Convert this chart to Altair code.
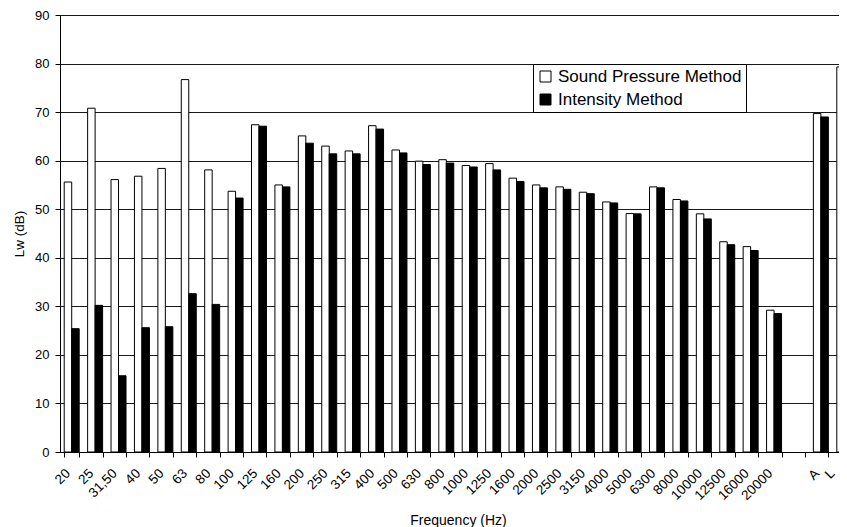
import altair as alt
import pandas as pd

freqs = ["20", "25", "31,50", "40", "50", "63", "80", "100", "125", "160", "200",
         "250", "315", "400", "500", "630", "800", "1000", "1250", "1600", "2000",
         "2500", "3150", "4000", "5000", "6300", "8000", "10000", "12500", "16000",
         "20000", "gap", "A", "L"]
pressure = [55.6, 70.8, 56.1, 56.8, 58.4, 76.7, 58.1, 53.7, 67.4, 55.0, 65.1,
            63.0, 62.0, 67.2, 62.2, 59.9, 60.2, 59.0, 59.4, 56.4, 55.0,
            54.6, 53.5, 51.5, 49.1, 54.6, 52.0, 49.05, 43.3, 42.3,
            29.2, None, 69.7, 79.3]
intensity = [25.4, 30.2, 15.7, 25.6, 25.8, 32.6, 30.4, 52.3, 67.1, 54.6, 63.6,
             61.4, 61.4, 66.5, 61.6, 59.2, 59.5, 58.7, 58.1, 55.7, 54.4,
             54.1, 53.2, 51.3, 49.05, 54.4, 51.7, 48.0, 42.7, 41.5,
             28.5, None, 69.0, 73.4]
methods = ["Sound Pressure Method", "Intensity Method"]

rows = []
for f, p, i in zip(freqs, pressure, intensity):
    if p is not None:
        rows.append({"freq": f, "method": methods[0], "lw": p})
    if i is not None:
        rows.append({"freq": f, "method": methods[1], "lw": i})
df = pd.DataFrame(rows)

FONT = "Liberation Sans"

chart = alt.Chart(df).mark_bar(stroke="black", strokeWidth=1).encode(
    x=alt.X("freq:N", sort=freqs,
            scale=alt.Scale(domain=freqs, range=[0, 796],
                            paddingInner=0.36, paddingOuter=0.18),
            axis=alt.Axis(title="Frequency (Hz)", labelAngle=-45, labelFontSize=13.5,
                          labelFont=FONT, labelColor="black", labelOverlap=False,
                          labelBound=False,
                          labelOffset={"condition": {"test": "datum.value === 'L'",
                                                     "value": -17},
                                       "value": -9},
                          labelPadding=9,
                          labelExpr="datum.value == 'gap' ? '' : datum.value",
                          tickBand="extent", tickSize=5, tickColor="black",
                          domainColor="black", titleFont=FONT, titleFontSize=14,
                          titleFontWeight="normal", titleColor="black",
                          titleBaseline="alphabetic", titleX=398, titleY=72)),
    xOffset=alt.XOffset("method:N", sort=methods,
                        scale=alt.Scale(domain=methods, paddingInner=0, paddingOuter=0)),
    y=alt.Y("lw:Q", scale=alt.Scale(domain=[0, 90], nice=False),
            axis=alt.Axis(title="Lw (dB)", values=list(range(0, 91, 10)),
                          labelFontSize=13, labelFont=FONT, labelColor="black",
                          labelPadding=6, tickSize=5, tickColor="black",
                          domainColor="black", grid=True, gridColor="black",
                          gridOpacity=0.9, titleFont=FONT, titleFontSize=13.5,
                          titleFontWeight="normal", titleColor="black",
                          titleBaseline="alphabetic", titleX=-37, titleY=218.5,
                          titleAngle=-90, titleAlign="center")),
    color=alt.Color("method:N", sort=methods,
                    scale=alt.Scale(domain=methods, range=["white", "black"]),
                    legend=alt.Legend(title=None, orient="none", legendX=473, legendY=49,
                                      direction="vertical", symbolType="square",
                                      symbolSize=121, symbolStrokeColor="black",
                                      symbolStrokeWidth=1, labelFontSize=17,
                                      labelFont=FONT, labelColor="black",
                                      labelLimit=400, labelOffset=4, rowPadding=5,
                                      padding=4, strokeColor="black",
                                      fillColor="white")),
).properties(
    width=779, height=437,
    autosize=alt.AutoSizeParams(type="none"),
    padding={"left": 52, "top": 7, "right": 0, "bottom": 75},
).configure_view(strokeWidth=0, stroke="transparent").configure(background="white")

chart.save("out.html", embed_options={"renderer": "svg", "actions": False})
